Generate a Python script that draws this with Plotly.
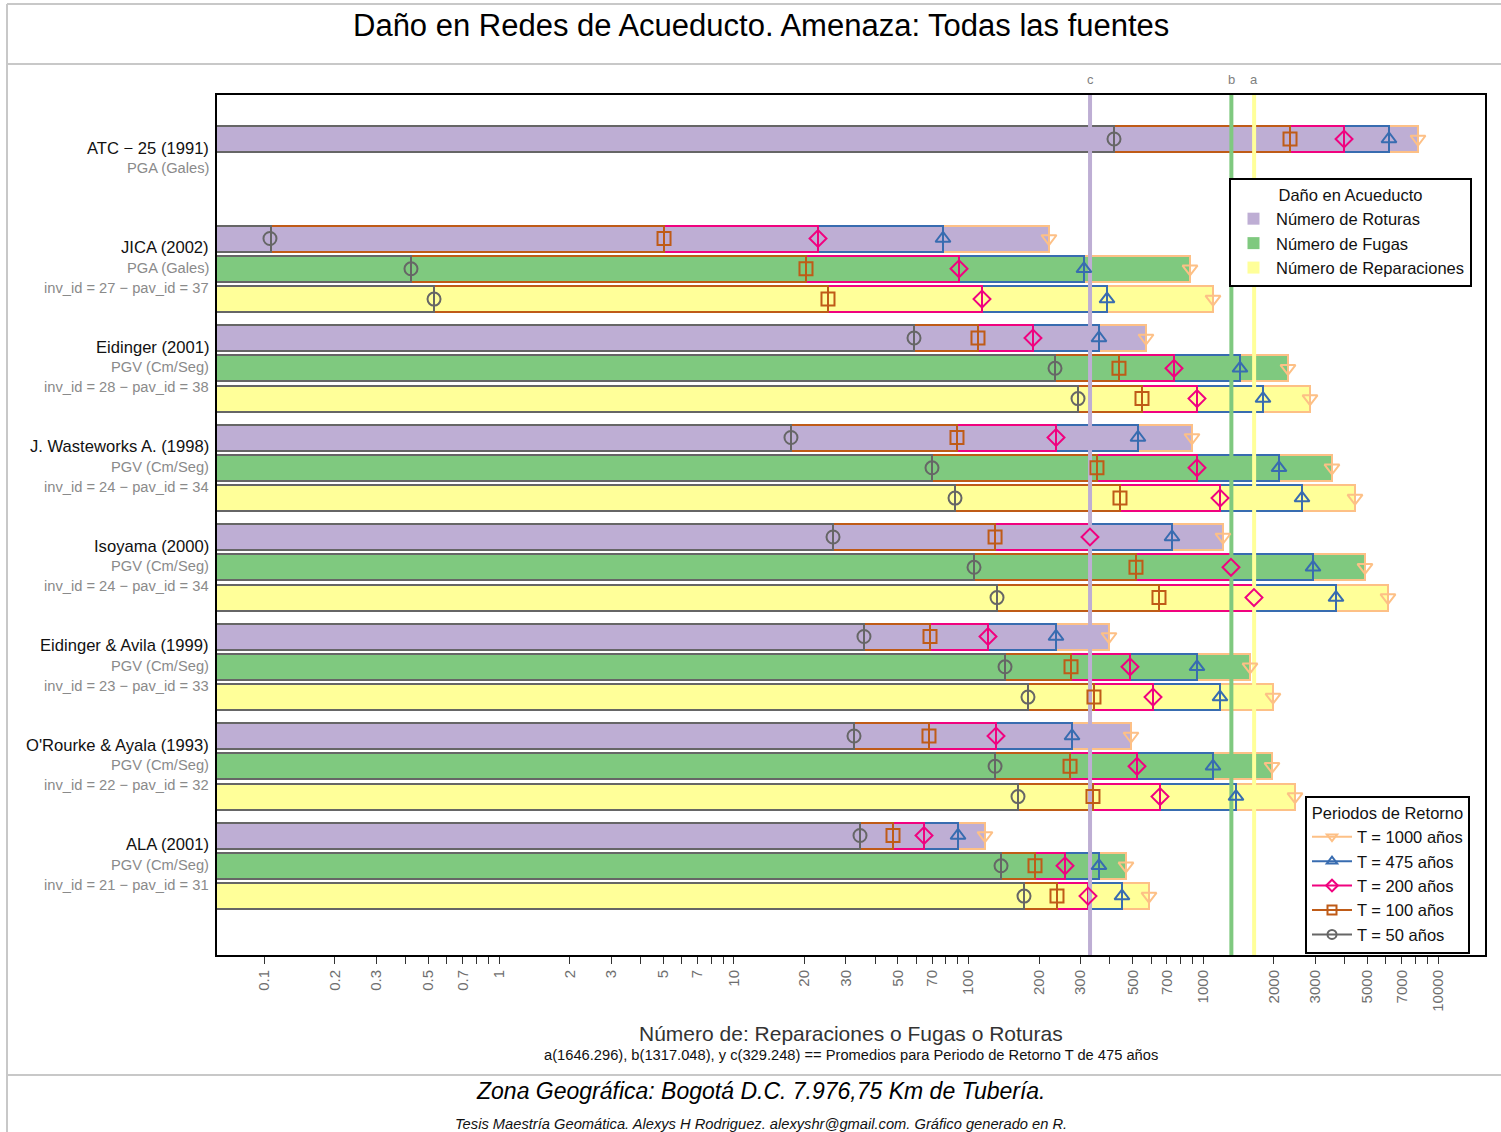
import math
import plotly.graph_objects as go

# ---------------- data ----------------
models = ["ATC − 25 (1991)", "JICA (2002)", "Eidinger (2001)", "J. Wasteworks A. (1998)",
          "Isoyama (2000)", "Eidinger & Avila (1999)", "O'Rourke & Ayala (1993)", "ALA (2001)"]
params = ["PGA (Gales)", "PGA (Gales)", "PGV (Cm/Seg)", "PGV (Cm/Seg)",
          "PGV (Cm/Seg)", "PGV (Cm/Seg)", "PGV (Cm/Seg)", "PGV (Cm/Seg)"]
ids = ["", "inv_id = 27 − pav_id = 37", "inv_id = 28 − pav_id = 38", "inv_id = 24 − pav_id = 34",
       "inv_id = 24 − pav_id = 34", "inv_id = 23 − pav_id = 33", "inv_id = 22 − pav_id = 32",
       "inv_id = 21 − pav_id = 31"]

damage_types = ["Número de Roturas", "Número de Fugas", "Número de Reparaciones"]
periods = ["T = 1000 años", "T = 475 años", "T = 200 años", "T = 100 años", "T = 50 años"]

rot_t50 = [416.5, 0.1057, 58.57, 17.52, 26.46, 35.85, 32.51, 34.48]
rot_t100 = [2341, 5.044, 109.7, 89.28, 129.7, 68.51, 67.84, 47.66]
rot_t200 = [3977, 22.84, 188.1, 235.8, 329.0, 121.0, 130.9, 64.60]
rot_t475 = [6180, 77.84, 359.4, 526.9, 735.7, 235.8, 275.9, 90.2]
rot_t1000 = [8214, 220.1, 570.0, 895.3, 1213, 396.6, 492.0, 117.5]

fug_t50 = [None, 0.4215, 233.5, 69.86, 105.5, 143.0, 129.7, 137.5]
fug_t100 = [None, 20.30, 437.3, 352.4, 516.7, 273.2, 270.6, 191.9]
fug_t200 = [None, 91.07, 750.3, 940.0, 1312, 487.1, 521.9, 257.6]
fug_t475 = [None, 310.2, 1433, 2101, 2933, 940.0, 1100, 359.4]
fug_t1000 = [None, 877.8, 2295, 3533, 4884, 1581, 1962, 468.4]

rep_t50 = [None, 0.5284, 292.6, 87.57, 132.2, 179.1, 162.4, 172.3]
rep_t100 = [None, 25.19, 548.1, 441.7, 647.5, 342.2, 338.9, 238.1]
rep_t200 = [None, 114.1, 940.0, 1178, 1644, 610.6, 653.9, 322.7]
rep_t475 = [None, 388.9, 1796, 2633, 3675, 1178, 1378, 450.4]
rep_t1000 = [None, 1100, 2848, 4429, 6120, 1981, 2458, 587.1]

avg_labels = ["a", "b", "c"]
avg_values = [1646.296, 1317.048, 329.248]

tick_vals = [m * 10 ** e for e in range(-1, 4) for m in range(1, 10)] + [10000]
tick_labeled = [1, 2, 3, 5, 7]

# ---------------- styles / layout ----------------
damage_colors = ["#BEAED4", "#7FC97F", "#FFFF99"]
period_colors = ["#FDC086", "#386CB0", "#F0027F", "#BF5B17", "#666666"]
period_symbols = ["triangle-down-open", "triangle-up-open", "diamond-open", "square-open", "circle-open"]
avg_colors = ["#FFFF99", "#7FC97F", "#BEAED4"]

FONT = "Liberation Sans, Arial, Helvetica, sans-serif"
W, H = 1501, 1132
L, R, T, B = 217, 1485, 95, 955
PH = B - T
GROUP0, GSTEP, BSTEP, BAR_W = 44, 99.5, 30.3, 26

series = {
    0: [rot_t1000, rot_t475, rot_t200, rot_t100, rot_t50],
    1: [fug_t1000, fug_t475, fug_t200, fug_t100, fug_t50],
    2: [rep_t1000, rep_t475, rep_t200, rep_t100, rep_t50],
}


def ypos(i, d):
    return GROUP0 + i * GSTEP + d * BSTEP


def px_x(p):
    return (p - L) / (R - L)


def px_y(p):
    return (B - p) / PH


fig = go.Figure()

# bars: nested rectangles, largest period first
for k in range(5):
    xs, ys, cols = [], [], []
    for d in range(3):
        for i, v in enumerate(series[d][k]):
            if v is None:
                continue
            xs.append(v)
            ys.append(ypos(i, d))
            cols.append(damage_colors[d])
    fig.add_trace(go.Bar(
        x=xs, y=ys, orientation="h", base=0.001, width=BAR_W,
        marker=dict(color=cols, line=dict(color=period_colors[k], width=2)),
        showlegend=False, hoverinfo="skip"))

# average reference lines
for lab, v, c in zip(avg_labels, avg_values, avg_colors):
    fig.add_trace(go.Scatter(x=[v, v], y=[0, PH], mode="lines",
                             line=dict(color=c, width=4), showlegend=False, hoverinfo="skip"))
    fig.add_annotation(x=math.log10(v), xref="x", y=px_y(80), yref="paper", yanchor="middle",
                       text=lab, showarrow=False, font=dict(size=13, color="#808080", family=FONT))

# markers
for k in range(5):
    xs, ys = [], []
    for d in range(3):
        for i, v in enumerate(series[d][k]):
            if v is None:
                continue
            xs.append(v)
            ys.append(ypos(i, d))
    fig.add_trace(go.Scatter(
        x=xs, y=ys, mode="markers",
        marker=dict(symbol=period_symbols[k], size=13, color=period_colors[k],
                    line=dict(color=period_colors[k], width=2)),
        showlegend=False, hoverinfo="skip"))

# legend proxies
for d in range(3):
    fig.add_trace(go.Bar(x=[None], y=[None], name=damage_types[d], orientation="h",
                         marker=dict(color=damage_colors[d], line=dict(width=0)),
                         legend="legend", showlegend=True))
for k in range(5):
    fig.add_trace(go.Scatter(x=[None], y=[None], name=periods[k], mode="lines+markers",
                             line=dict(color=period_colors[k], width=2),
                             marker=dict(symbol=period_symbols[k], size=9, color=period_colors[k],
                                         line=dict(color=period_colors[k], width=2)),
                             legend="legend2", showlegend=True))

# y labels
for i, m in enumerate(models):
    y0 = ypos(i, 0) + 9
    fig.add_annotation(x=0, xref="paper", xshift=-6, y=y0, yref="y", text=m, xanchor="right",
                       yanchor="middle", showarrow=False, font=dict(size=16.6, color="#111111", family=FONT))
    fig.add_annotation(x=0, xref="paper", xshift=-6, y=y0 + 20, yref="y", text=params[i], xanchor="right",
                       yanchor="middle", showarrow=False, font=dict(size=14.7, color="#8a8a8a", family=FONT))
    if ids[i]:
        fig.add_annotation(x=0, xref="paper", xshift=-6, y=y0 + 40, yref="y", text=ids[i], xanchor="right",
                           yanchor="middle", showarrow=False, font=dict(size=14.7, color="#8a8a8a", family=FONT))

# titles / footers
cx_title = px_x(760.5)
fig.add_annotation(x=cx_title, xref="paper", y=px_y(25), yref="paper", yanchor="middle", showarrow=False,
                   text="Daño en Redes de Acueducto. Amenaza: Todas las fuentes",
                   font=dict(size=31, color="#000000", family=FONT))
fig.add_annotation(x=0.5, xref="paper", y=px_y(1033), yref="paper", yanchor="middle", showarrow=False,
                   text="Número de: Reparaciones o Fugas o Roturas",
                   font=dict(size=21, color="#333333", family=FONT))
fig.add_annotation(x=0.5, xref="paper", y=px_y(1055), yref="paper", yanchor="middle", showarrow=False,
                   text="a(1646.296), b(1317.048), y c(329.248) == Promedios para Periodo de Retorno T de 475 años",
                   font=dict(size=14.7, color="#111111", family=FONT))
fig.add_annotation(x=cx_title, xref="paper", y=px_y(1091), yref="paper", yanchor="middle", showarrow=False,
                   text="<i>Zona Geográfica: Bogotá D.C. 7.976,75 Km de Tubería.</i>",
                   font=dict(size=23, color="#000000", family=FONT))
fig.add_annotation(x=cx_title, xref="paper", y=px_y(1124), yref="paper", yanchor="middle", showarrow=False,
                   text="<i>Tesis Maestría Geomática. Alexys H Rodriguez. alexyshr@gmail.com. Gráfico generado en R.</i>",
                   font=dict(size=14.7, color="#111111", family=FONT))

# frame decorations
gray = "#c8c8c8"
for yy in (4, 64, 1075):
    fig.add_shape(type="line", xref="paper", yref="paper", x0=px_x(7), x1=px_x(1501),
                  y0=px_y(yy), y1=px_y(yy), line=dict(color=gray, width=2))
fig.add_shape(type="line", xref="paper", yref="paper", x0=px_x(7), x1=px_x(7),
              y0=px_y(4), y1=px_y(1132), line=dict(color=gray, width=2))

tick_text = []
for v in tick_vals:
    mant = round(v / 10 ** math.floor(math.log10(v) + 1e-9))
    tick_text.append(("%g" % v) if mant in tick_labeled else "")

fig.update_layout(
    width=W, height=H,
    margin=dict(l=L, r=W - R, t=T, b=H - B),
    paper_bgcolor="white", plot_bgcolor="white",
    barmode="overlay", bargap=0,
    font=dict(family=FONT),
    xaxis=dict(type="log", range=[math.log10(0.06287), math.log10(15850)],
               tickmode="array", tickvals=tick_vals, ticktext=tick_text, tickangle=-90,
               ticks="outside", ticklen=7, tickwidth=1, tickcolor="#333333",
               tickfont=dict(size=15, color="#6e6e6e", family=FONT),
               showgrid=False, zeroline=False, showline=True, mirror=True,
               linecolor="black", linewidth=2),
    yaxis=dict(range=[PH, 0], showticklabels=False, ticks="", showgrid=False, zeroline=False,
               showline=True, mirror=True, linecolor="black", linewidth=2),
    legend=dict(x=px_x(1229), y=px_y(178), xanchor="left", yanchor="top",
                bordercolor="black", borderwidth=2, bgcolor="white",
                font=dict(size=16.5, color="#111111", family=FONT),
                title=dict(text="Daño en Acueducto", side="top center",
                           font=dict(size=16.5, color="#111111", family=FONT)),
                traceorder="normal", itemclick=False, itemwidth=35),
    legend2=dict(x=px_x(1305), y=px_y(796), xanchor="left", yanchor="top",
                 bordercolor="black", borderwidth=2, bgcolor="white",
                 font=dict(size=16.5, color="#111111", family=FONT),
                 title=dict(text="Periodos de Retorno", side="top center",
                            font=dict(size=16.5, color="#111111", family=FONT)),
                 traceorder="normal", itemclick=False, itemwidth=40),
)

fig.write_html("out.html", config={"displayModeBar": False},
               post_script="document.body.style.margin='0px';")
